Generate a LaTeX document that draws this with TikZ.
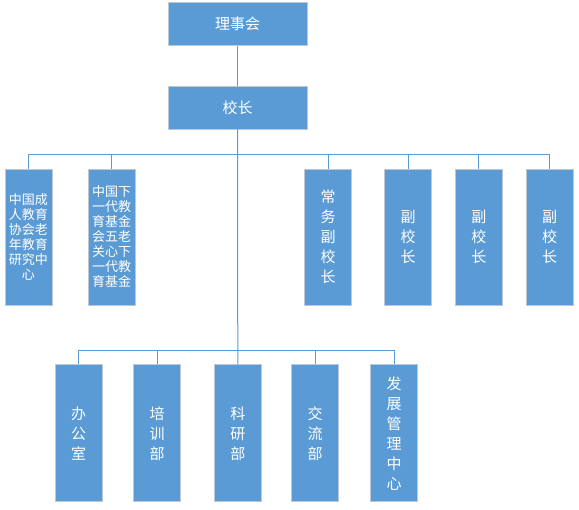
\documentclass[tikz,border=0pt]{standalone}
\usepackage{fontspec}
\setmainfont{Noto Sans CJK SC}
\definecolor{boxblue}{HTML}{5B9BD5}
\definecolor{boxedge}{RGB}{190,200,212}
\begin{document}
\begin{tikzpicture}[x=1pt,y=-1pt,
  box/.style={rectangle,fill=boxblue,draw=boxedge,line width=0.9pt,inner sep=0pt,text=white,align=center},
  wide/.style={box,minimum width=139pt,minimum height=43pt,font=\fontsize{15}{18}\selectfont},
  tall/.style={box,minimum width=47pt,minimum height=136pt,font=\fontsize{15}{20}\selectfont},
  small/.style={tall,font=\fontsize{13}{15}\selectfont},
  conn/.style={draw=boxblue,line width=1pt}]
\useasboundingbox (0,0) rectangle (579,510);
\node[wide] (lsh) at (237.5,24) {理事会};
\node[wide] (xz) at (237.5,107.5) {校长};
\node[small] (a1) at (28.5,237) {中国成\\人教育\\协会老\\年教育\\研究中\\心};
\node[small] (a2) at (111.5,237) {中国下\\一代教\\育基金\\会五老\\关心下\\一代教\\育基金};
\node[tall] (a3) at (328.2,237) {常\\务\\副\\校\\长};
\node[tall] (a4) at (408.2,237) {副\\校\\长};
\node[tall] (a5) at (478.8,237) {副\\校\\长};
\node[tall] (a6) at (549.5,237) {副\\校\\长};
\node[tall,minimum height=137pt] (c1) at (78.5,433.4) {办\\公\\室};
\node[tall,minimum height=137pt] (c2) at (157.2,433.4) {培\\训\\部};
\node[tall,minimum height=137pt] (c3) at (237.8,433.4) {科\\研\\部};
\node[tall,minimum height=137pt] (c4) at (315.2,433.4) {交\\流\\部};
\node[tall,minimum height=137pt] (c5) at (394.2,433.4) {发\\展\\管\\理\\中\\心};
\coordinate (tb) at (237.7,154.5);
\coordinate (bb) at (237.7,350.7);
\begin{scope}[on background layer/.style={}]
\draw[conn] (lsh.south) -- (xz.north);
\draw[conn] (xz.south) -- (c3.north);
\draw[conn] (a1.north) |- (tb) -| (a6.north);
\draw[conn] (a2.north) -- (a2.north |- tb);
\draw[conn] (a3.north) -- (a3.north |- tb);
\draw[conn] (a4.north) -- (a4.north |- tb);
\draw[conn] (a5.north) -- (a5.north |- tb);
\draw[conn] (c1.north) |- (bb) -| (c5.north);
\draw[conn] (c2.north) -- (c2.north |- bb);
\draw[conn] (c4.north) -- (c4.north |- bb);
\end{scope}
\end{tikzpicture}
\end{document}
